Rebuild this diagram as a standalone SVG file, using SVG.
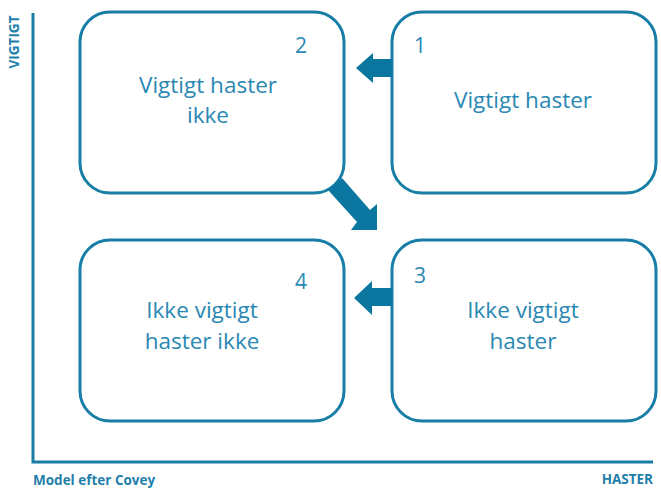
<svg xmlns="http://www.w3.org/2000/svg" width="661" height="490" viewBox="0 0 661 490">
<style>
.box{fill:#fff;stroke:#187ea6;stroke-width:3}
.t{font-family:"Open Sans","Liberation Sans",sans-serif;font-size:22.5px;fill:#2a88b3;text-anchor:middle}
.n{font-family:"Open Sans","Liberation Sans",sans-serif;font-size:21px;fill:#2a88b3}
.lbl{font-family:"Open Sans","Liberation Sans",sans-serif;font-size:13.5px;font-weight:bold;fill:#1f7fab}
.arr{fill:#0b77a0}
.axis{stroke:#187ea6;stroke-width:3;fill:none}
</style>
<g id="axes">
<polyline class="axis" points="33,13 33,462 653,462"/>
<text class="lbl" transform="translate(19,42) rotate(-90)" text-anchor="middle">VIGTIGT</text>
<text class="lbl" x="33" y="485" font-size="14px">Model efter Covey</text>
<text class="lbl" x="653" y="484" text-anchor="end">HASTER</text>
</g>
<g id="q2"><rect class="box" x="80" y="12" width="264" height="181" rx="30"/>
<text class="n" x="295" y="53">2</text>
<text class="t" x="208" y="93">Vigtigt haster</text><text class="t" x="208" y="123">ikke</text></g>
<g id="q1"><rect class="box" x="392" y="12" width="264" height="181" rx="30"/>
<text class="n" x="414" y="53">1</text>
<text class="t" x="523" y="108">Vigtigt haster</text></g>
<g id="q4"><rect class="box" x="80" y="240" width="264" height="181" rx="30"/>
<text class="n" x="295" y="289">4</text>
<text class="t" x="202" y="318">Ikke vigtigt</text><text class="t" x="202" y="349">haster ikke</text></g>
<g id="q3"><rect class="box" x="392" y="240" width="264" height="181" rx="30"/>
<text class="n" x="414" y="283">3</text>
<text class="t" x="523" y="318">Ikke vigtigt</text><text class="t" x="523" y="349">haster</text></g>
<g id="connectors">
<polygon class="arr" points="392,59 373,59 373,53 356,68 373,83 373,77 392,77"/>
<polygon class="arr" points="392,288 372,288 372,281 354,298 372,315 372,306 392,306"/>
<polygon class="arr" points="328,190 342,178 370,210 377,204 377,230 351,230 357,222"/>
</g>
</svg>
